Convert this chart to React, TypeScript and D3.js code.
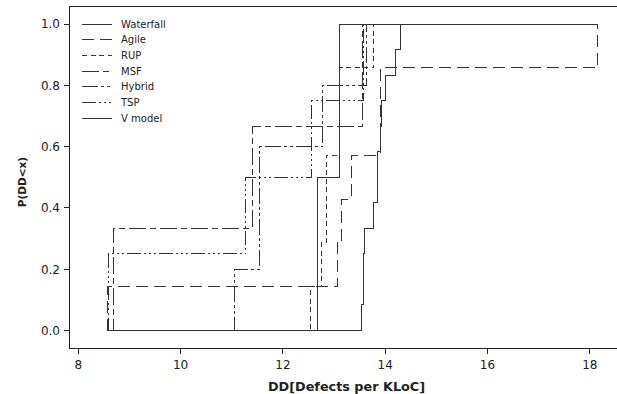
import React from 'react';
import * as d3 from 'd3';

// ---- data (DD values per methodology, read from the ECDF steps) ----
const seriesNames = ['Waterfall', 'Agile', 'RUP', 'MSF', 'Hybrid', 'TSP', 'V model'];
const waterfall = [13.54, 13.57, 13.57, 13.6, 13.77, 13.84, 13.84, 13.9, 13.93, 14.0, 14.2, 14.29];
const agile = [8.57, 13.06, 13.15, 13.34, 13.9, 13.9, 18.15];
const rup = [12.53, 12.76, 12.85, 12.85, 13.11, 13.11, 13.78];
const msf = [8.68, 11.4, 13.55];
const hybrid = [11.05, 11.55, 11.55, 12.78, 13.64];
const tsp = [8.59, 11.27, 12.56, 13.58];
const vmodel = [12.67, 13.11];
const seriesValues = [waterfall, agile, rup, msf, hybrid, tsp, vmodel];

const xTicks = [8, 10, 12, 14, 16, 18];
const yTicks = [0, 0.2, 0.4, 0.6, 0.8, 1.0];
const xTitle = 'DD[Defects per KLoC]';
const yTitle = 'P(DD<x)';

const dashes = ['none', '12,6', '5,3.5', '17,4,6,4', '16,3,3,3,3,3', '14,3,2,3,2,3,2,3', 'none'];

const W = 617;
const H = 394;
const frame = { left: 69, top: 6.5, bottom: 348.5 };

const x = d3.scaleLinear().domain([8, 18]).range([78.3, 589.8]);
const y = d3.scaleLinear().domain([0, 1]).range([330.5, 24]);

const allVals = seriesValues.flat();
const gMin = d3.min(allVals) as number;
const gMax = d3.max(allVals) as number;

function ecdfPoints(vals: number[]): [number, number][] {
  const s = [...vals].sort((a, b) => a - b);
  const n = s.length;
  const pts: [number, number][] = [[gMin, 0]];
  let i = 0;
  while (i < n) {
    const v = s[i];
    let j = i;
    while (j < n && s[j] === v) j++;
    pts.push([v, j / n]);
    i = j;
  }
  if (pts[pts.length - 1][0] < gMax) pts.push([gMax, 1]);
  return pts;
}

const line = d3
  .line<[number, number]>()
  .x((d) => x(d[0]))
  .y((d) => y(d[1]))
  .curve(d3.curveStepAfter);

const font = 'DejaVu Sans, Verdana, sans-serif';
const ink = '#222';
const lineInk = '#333';

export default function App() {
  return (
    <svg
      width={W}
      height={H}
      viewBox={`0 0 ${W} ${H}`}
      style={{ position: 'absolute', left: 0, top: 0, background: '#fff' }}
    >
      <rect x={0} y={0} width={W} height={H} fill="#fff" />
      {/* frame */}
      <path
        d={`M${W + 5},${frame.top}H${frame.left}V${frame.bottom}H${W + 5}`}
        fill="none"
        stroke={ink}
        strokeWidth={1}
        shapeRendering="crispEdges"
      />
      {/* y ticks */}
      {yTicks.map((t) => (
        <g key={'y' + t}>
          <line x1={frame.left - 5} x2={frame.left} y1={y(t)} y2={y(t)} stroke={ink} shapeRendering="crispEdges" />
          <text x={60} y={y(t)} dy="0.36em" textAnchor="end" fontFamily={font} fontSize={12} fill={ink}>
            {t.toFixed(1)}
          </text>
        </g>
      ))}
      {/* x ticks */}
      {xTicks.map((t) => (
        <g key={'x' + t}>
          <line x1={x(t)} x2={x(t)} y1={frame.bottom} y2={frame.bottom + 5} stroke={ink} shapeRendering="crispEdges" />
          <text x={x(t)} y={368.5} textAnchor="middle" fontFamily={font} fontSize={12} fill={ink}>
            {t}
          </text>
        </g>
      ))}
      {/* axis titles */}
      <text x={346.5} y={391} textAnchor="middle" fontFamily={font} fontWeight="bold" fontSize={12.8} fill={ink}>
        {xTitle}
      </text>
      <text
        transform="translate(25.5,182) rotate(-90)"
        textAnchor="middle"
        fontFamily={font}
        fontWeight="bold"
        fontSize={10.5}
        fill={ink}
      >
        {yTitle}
      </text>
      {/* curves */}
      {seriesValues.map((vals, i) => (
        <path
          key={seriesNames[i]}
          d={line(ecdfPoints(vals)) || ''}
          fill="none"
          stroke={lineInk}
          strokeWidth={1}
          strokeDasharray={dashes[i]}
          shapeRendering="crispEdges"
        />
      ))}
      {/* legend */}
      {seriesNames.map((name, i) => {
        const ly = 24 + i * 15.7;
        return (
          <g key={'lg' + name}>
            <line
              x1={82}
              x2={112}
              y1={ly}
              y2={ly}
              stroke={lineInk}
              strokeWidth={1}
              strokeDasharray={dashes[i]}
              shapeRendering="crispEdges"
            />
            <text x={121} y={ly} dy="0.35em" fontFamily={font} fontSize={10} fill={ink}>
              {name}
            </text>
          </g>
        );
      })}
    </svg>
  );
}
